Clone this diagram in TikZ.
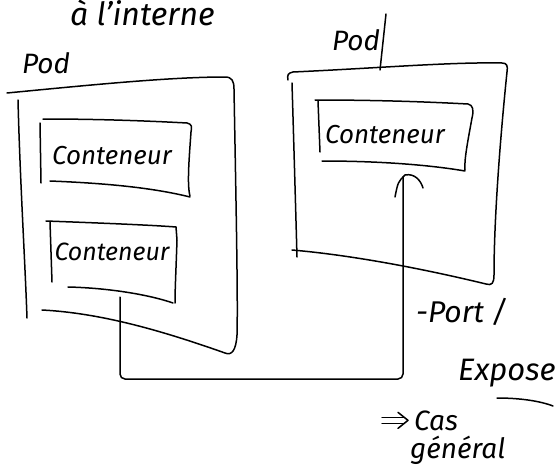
\documentclass[tikz,border=0pt]{standalone}
\usepackage{fontspec}
\setmainfont{Fira Sans}
\usetikzlibrary{calc}
\tikzset{
  pen/.style={line width=1.5pt, line cap=round, line join=round, black},
  hand/.style={font=\itshape\fontsize{#1}{#1}\selectfont, inner sep=0pt},
  hand/.default=21
}
\begin{document}
\begin{tikzpicture}[x=1pt, y=-1pt]
\useasboundingbox (0,0) rectangle (558,471);
\clip (0,0) rectangle (558,471);

% heading
\node[hand=32, anchor=base west] (head) at (70,25) {à l'interne};

% ---- left pod ----
\node[hand=28] (podA) at (46,63) {Pod};
\draw[pen] (7,93) .. controls (90,85) and (170,77) .. (225,77)
  .. controls (232,77) and (234,81) .. (234,89)
  .. controls (236,200) and (238,300) .. (237,335)
  .. controls (236,350) and (232,356) .. (225,353)
  .. controls (160,330) and (100,313) .. (42,310);
\draw[pen] (18,100) .. controls (20,180) and (25,260) .. (27,318);

% first container of the left pod
\node[hand=26] (cA1) at (112,156) {Conteneur};
\draw[pen] (43,119) .. controls (100,119) and (150,121) .. (187,123)
  .. controls (192,124) and (192,127) .. (191,132)
  .. controls (189,160) and (187,185) .. (190,196);
\draw[pen] (50,181) .. controls (100,183) and (150,187) .. (190,197);
\draw[pen] (40,123) -- (41,183);

% second container of the left pod
\node[hand=25] (cA2) at (112,252) {Conteneur};
\draw[pen] (46,221) .. controls (100,223) and (150,225) .. (176,227)
  -- (177,240) .. controls (176,270) and (175,290) .. (175,303);
\draw[pen] (68,287) .. controls (110,288) and (150,295) .. (173,303);
\draw[pen] (50,222) -- (52,282);

% ---- right pod ----
\node[hand=28] (podB) at (356,40) {Pod};
\draw[pen] (386,14) -- (380,70);
\draw[pen] (288,80) .. controls (287,75) and (288,73) .. (293,72)
  .. controls (380,68) and (450,62) .. (502,63)
  .. controls (507,63) and (508,66) .. (507,72)
  .. controls (500,140) and (494,220) .. (494,275)
  .. controls (494,283) and (492,286) .. (486,284)
  .. controls (420,268) and (350,255) .. (292,250);
\draw[pen] (292,83) .. controls (294,150) and (296,220) .. (297,257);

% container of the right pod
\node[hand=26] (cB) at (385,135) {Conteneur};
\draw[pen] (315,100) .. controls (380,100) and (430,102) .. (468,104)
  .. controls (473,105) and (474,110) .. (472,118)
  .. controls (468,140) and (464,160) .. (465,170);
\draw[pen] (322,161) .. controls (380,161) and (430,165) .. (465,171);
\draw[pen] (318,101) -- (320,152);

% link between the two pods
\coordinate (src) at (120,297);
\coordinate (dst) at (403,177);
\coordinate (low) at (0,379);
\draw[pen, rounded corners=5pt] (src) -- (src |- low) -- (dst |- low) -- (dst);
\draw[pen] ($(dst)+(-8,20)$) .. controls ($(dst)+(-5,5)$) .. ($(dst)+(2,-2)$)
  .. controls ($(dst)+(12,-4)$) and ($(dst)+(18,4)$) .. ($(dst)+(20,11)$);

% notes
\node[hand=30, anchor=base west] (port) at (416,322) {-Port /};
\node[hand=31, anchor=base west] (expo) at (458,380) {Expose};
\draw[pen] (497,398) .. controls (520,398) and (540,401) .. (553,406);
\node[hand=28, anchor=base west] (cas) at (414,430) {Cas};
\node[hand=28, anchor=base west] (gen) at (410,458) {général};
% hand-drawn double arrow pointing at "Cas"
\coordinate (arr) at ($(cas.west)+(-6,0)$);
\draw[pen] ($(arr)+(-26,-3)$) -- ($(arr)+(-4,-3)$);
\draw[pen] ($(arr)+(-26,3)$) -- ($(arr)+(-4,3)$);
\draw[pen] ($(arr)+(-10,-8)$) -- (arr) -- ($(arr)+(-10,8)$);
\end{tikzpicture}
\end{document}
